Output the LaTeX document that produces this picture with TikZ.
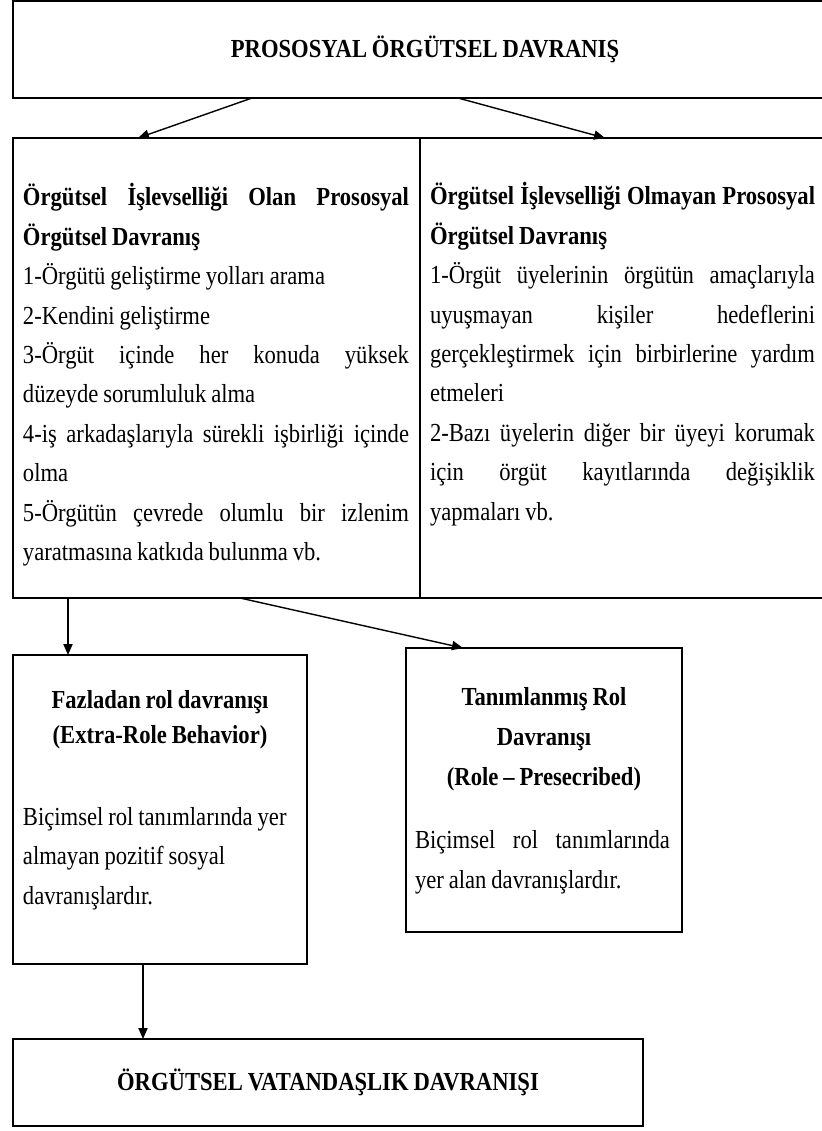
\documentclass[tikz,border=0pt]{standalone}
\usepackage{fontspec}
\setmainfont{Liberation Serif}[FakeStretch=0.87, WordSpace=0.87]
\usetikzlibrary{arrows.meta}
\tikzset{
  box/.style={draw, line width=1pt, inner sep=0pt, outer sep=0pt},
  txt/.style={inner sep=0pt, outer sep=0pt},
  body/.style={txt, font=\fontsize{13}{19.7}\selectfont},
  head/.style={box, font=\fontsize{13}{16}\selectfont\bfseries},
  arr/.style={line width=0.7pt, -{Triangle[length=5.5pt,width=4.6pt]}},
}
\newcommand{\js}[2]{\leavevmode\hbox to #1{\spaceskip=0.22em plus 1fil\relax #2}}
\begin{document}
\begin{tikzpicture}[x=0.5pt,y=-0.5pt]
\useasboundingbox (0,0) rectangle (822,1131);
\fill[white] (0,0) rectangle (822,1131);

% top box
\node[head, minimum width=412pt, minimum height=48.5pt] (top) at (425,49.5) {PROSOSYAL ÖRGÜTSEL DAVRANIŞ};

% middle boxes
\node[box, minimum width=203.5pt, minimum height=230pt] (midL) at (216.5,368) {};
\node[box, minimum width=208.5pt, minimum height=230pt] (midR) at (628.5,368) {};

\node[body, text width=193pt, align=flush left, anchor=north west] (ltxt) at (23,178.4) {%
\strut\js{193pt}{\bfseries Örgütsel İşlevselliği Olan Prososyal}\\
\textbf{Örgütsel Davranış}\\
1-Örgütü geliştirme yolları arama\\
2-Kendini geliştirme\\
\js{193pt}{3-Örgüt içinde her konuda yüksek}\\
düzeyde sorumluluk alma\\
\js{193pt}{4-iş arkadaşlarıyla sürekli işbirliği içinde}\\
olma\\
\js{193pt}{5-Örgütün çevrede olumlu bir izlenim}\\
yaratmasına katkıda bulunma vb.};

\node[body, text width=192.5pt, align=flush left, anchor=north west] (rtxt) at (430,177.4) {%
\strut\js{192.5pt}{\bfseries Örgütsel İşlevselliği Olmayan Prososyal}\\
\textbf{Örgütsel Davranış}\\
\js{192.5pt}{1-Örgüt üyelerinin örgütün amaçlarıyla}\\
\js{192.5pt}{uyuşmayan kişiler hedeflerini}\\
\js{192.5pt}{gerçekleştirmek için birbirlerine yardım}\\
etmeleri\\
\js{192.5pt}{2-Bazı üyelerin diğer bir üyeyi korumak}\\
\js{192.5pt}{için örgüt kayıtlarında değişiklik}\\
yapmaları vb.};

% Fazladan rol davranisi
\node[box, minimum width=147pt, minimum height=154.5pt] (faz) at (160,809.5) {};
\node[txt, font=\fontsize{13}{17.5}\selectfont\bfseries, align=center, anchor=north] (fazt) at (160,683.5) {%
\strut Fazladan rol davranışı\\(Extra-Role Behavior)};
\node[txt, font=\fontsize{13}{19.75}\selectfont, align=left, anchor=north west] (fazb) at (23,797.4) {%
\strut Biçimsel rol tanımlarında yer\\almayan pozitif sosyal\\davranışlardır.};

% Tanimlanmis rol davranisi
\node[box, minimum width=138pt, minimum height=142pt] (tan) at (544,790) {};
\node[txt, font=\fontsize{13}{20}\selectfont\bfseries, align=center, anchor=north] (tant) at (544,677) {%
\strut Tanımlanmış Rol\\Davranışı\\(Role – Presecribed)};
\node[txt, font=\fontsize{13}{20}\selectfont, text width=127.5pt, align=flush left, anchor=north west] (tanb) at (415,820) {%
\strut\js{127.5pt}{Biçimsel rol tanımlarında}\\yer alan davranışlardır.};

% bottom box
\node[head, minimum width=315pt, minimum height=43.5pt] (bot) at (328,1082.5) {ÖRGÜTSEL VATANDAŞLIK DAVRANIŞI};

% connectors
\draw[arr] ([xshift=119.5pt]top.south west) -- ([xshift=62.5pt]midL.north west);
\draw[arr] ([xshift=222.5pt]top.south west) -- ([xshift=92.5pt]midR.north west);
\draw[arr] ([xshift=27.5pt]midL.south west) -- ([xshift=27.5pt]faz.north west);
\draw[arr] ([xshift=113.5pt]midL.south west) -- ([xshift=28.5pt]tan.north west);
\draw[arr] ([xshift=65pt]faz.south west) -- ([xshift=65pt]bot.north west);
\end{tikzpicture}
\end{document}
